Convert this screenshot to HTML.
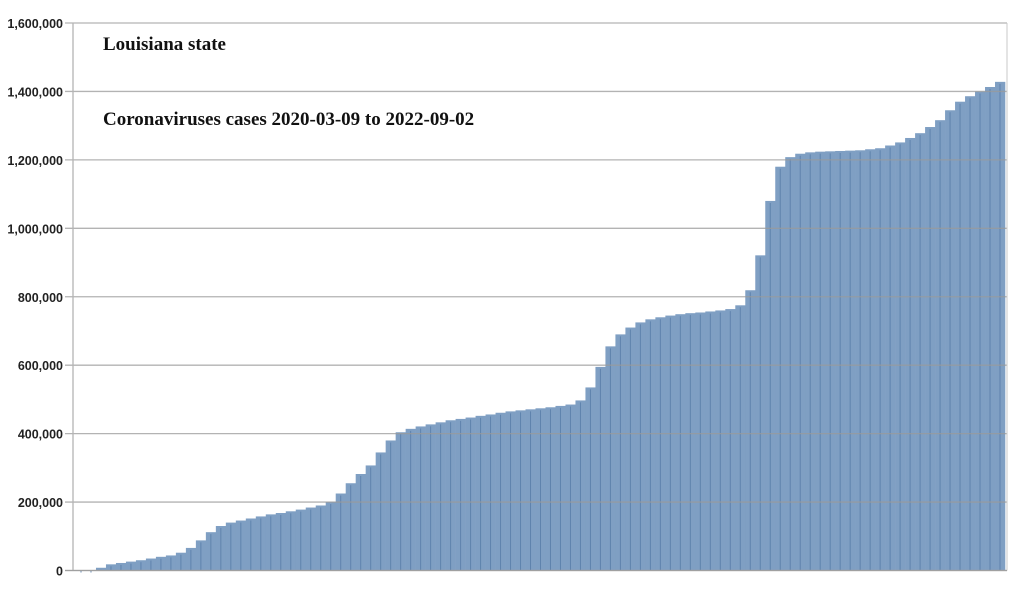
<!DOCTYPE html>
<html><head><meta charset="utf-8"><style>
body{margin:0;background:#fff;}
svg{display:block;}
</style></head><body>
<svg id="chart" width="1025" height="592" xmlns="http://www.w3.org/2000/svg">
<rect x="0" y="0" width="1025" height="592" fill="#fff"/>
<g id="bars"></g>
<g id="grid"></g>
<g id="ylabels"></g>
<text x="103" y="50" font-family="Liberation Serif, serif" font-weight="bold" font-size="19" fill="#111">Louisiana state</text>
<text x="103" y="125" font-family="Liberation Serif, serif" font-weight="bold" font-size="19" fill="#111">Coronaviruses cases 2020-03-09 to 2022-09-02</text>
</svg>
<script>
const tickValues=[0,200000,400000,600000,800000,1000000,1200000,1400000,1600000];
const tickLabels=["0","200,000","400,000","600,000","800,000","1,000,000","1,200,000","1,400,000","1,600,000"];
const casesK=[0,0,8,18,22,26,30,35,40,44,52,66,88,112,130,140,146,152,158,164,168,173,178,184,190,200,225,255,282,307,345,380,404,414,421,427,433,439,443,447,452,456,461,465,468,471,474,477,481,485,497,535,595,655,690,710,725,734,740,745,749,752,754,757,760,764,775,819,921,1080,1180,1208,1218,1222,1224,1225,1226,1227,1228,1231,1234,1242,1251,1264,1278,1296,1316,1345,1370,1386,1400,1413,1428];
const NS="http://www.w3.org/2000/svg";
const X0=73,X1=1007,Y0=570.5,Y1=23;
const yS=v=>Y0-(v/1600000)*(Y0-Y1);
const bw=(X1-2-X0-3)/casesK.length;
const xS=i=>X0+3+i*bw;
const grid=document.getElementById('grid'),bars=document.getElementById('bars'),yl=document.getElementById('ylabels');
function mk(t,a){const e=document.createElementNS(NS,t);for(const k in a)e.setAttribute(k,a[k]);return e;}
tickValues.forEach((v,i)=>{
 const l=mk('line',{x1:X0-8,x2:X1,y1:yS(v),y2:yS(v),stroke:'#9a9a9a','stroke-opacity':0.75,'stroke-width':1.3});
 
 
 grid.appendChild(l);
 const t=mk('text',{x:63,y:yS(v)+5,'text-anchor':'end','font-family':'Liberation Sans, sans-serif','font-weight':'bold','font-size':'12.5',fill:'#222'});
 t.textContent=tickLabels[i];
 
 
 yl.appendChild(t);
});
const ax=mk('line',{x1:X0,x2:X0,y1:Y1,y2:Y0,stroke:'#b4b4b4','stroke-width':1.3});


grid.appendChild(ax);
const rx=mk('line',{x1:X1,x2:X1,y1:Y1,y2:Y0,stroke:'#c8c8c8','stroke-width':1});


grid.appendChild(rx);
casesK.forEach((v,i)=>{
 const y=yS(v*1000);
 const r=mk('rect',{x:xS(i),y:y,width:bw+0.3,height:Y0-y,fill:'#7f9fc3'});
 
 
 bars.appendChild(r);
 const s=mk('line',{x1:xS(i)+bw/2,x2:xS(i)+bw/2,y1:y+2,y2:Y0,stroke:'#5f83ad','stroke-width':1});
 
 
 bars.appendChild(s);
});
const base=mk('line',{x1:X0-8,x2:X1,y1:Y0,y2:Y0,stroke:'#a0a0a0','stroke-width':1.3});


grid.appendChild(base);
</script>
</body></html>
